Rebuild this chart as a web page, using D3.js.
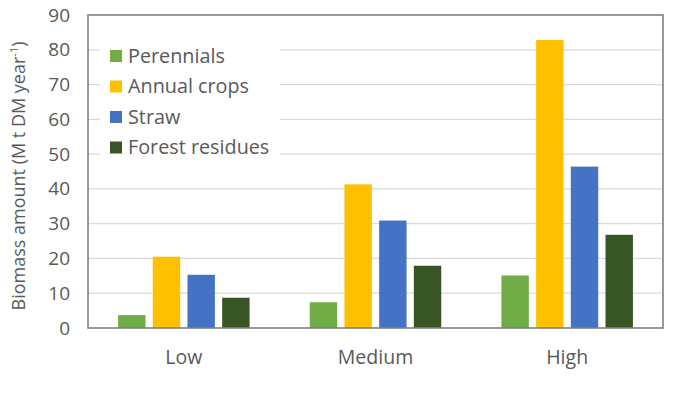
<!DOCTYPE html>
<html>
<head>
<meta charset="utf-8">
<script src="https://cdn.jsdelivr.net/npm/d3@7"></script>
<style>
  html, body { margin: 0; padding: 0; background: #fff; }
  svg { display: block; font-family: "Open Sans", "Noto Sans", sans-serif; }
</style>
</head>
<body>
<svg id="chart" width="675" height="397"></svg>
<script>
const categories = ["Low", "Medium", "High"];
const seriesNames = ["Perennials", "Annual crops", "Straw", "Forest residues"];
const perennials = [3.7, 7.4, 15.1];
const annualCrops = [20.5, 41.3, 82.8];
const straw = [15.3, 30.9, 46.4];
const forestResidues = [8.7, 17.9, 26.8];
const yTicks = [0, 10, 20, 30, 40, 50, 60, 70, 80, 90];
const colors = ["#70AD47", "#FFC000", "#4472C4", "#375623"];

const seriesValues = [perennials, annualCrops, straw, forestResidues];

const svg = d3.select("#chart");
const m = { left: 88, right: 663, top: 15, bottom: 328 };

const y = d3.scaleLinear().domain([0, 90]).range([m.bottom, m.top]);
const x0 = d3.scaleBand().domain(categories).range([m.left, m.right]).padding(0);
const groupW = 131.5;
const x1 = d3.scaleBand().domain(seriesNames).range([0, groupW]).paddingInner(0.21).paddingOuter(0);
const offset = (x0.bandwidth() - groupW) / 2;

// gridlines
svg.append("g")
  .selectAll("line")
  .data(yTicks.filter(t => t > 0 && t < 90))
  .join("line")
  .attr("x1", m.left).attr("x2", m.right)
  .attr("y1", d => y(d)).attr("y2", d => y(d))
  .attr("stroke", "#d9d9d9").attr("stroke-width", 1.3);

// bars
const groups = svg.append("g")
  .selectAll("g")
  .data(categories)
  .join("g")
  .attr("transform", d => `translate(${x0(d) + offset},0)`);

groups.selectAll("rect")
  .data((c, ci) => seriesNames.map((s, si) => ({ s, si, v: seriesValues[si][ci] })))
  .join("rect")
  .attr("x", d => x1(d.s))
  .attr("width", x1.bandwidth())
  .attr("y", d => y(d.v))
  .attr("height", d => y(0) - y(d.v))
  .attr("fill", d => colors[d.si]);

// legend background + legend
const legend = svg.append("g");
legend.append("rect")
  .attr("x", 100).attr("y", 38).attr("width", 180).attr("height", 126)
  .attr("fill", "#fff");
const legendRows = legend.selectAll("g")
  .data(seriesNames)
  .join("g")
  .attr("transform", (d, i) => `translate(110,${56 + i * 30.5})`);
legendRows.append("rect")
  .attr("x", 0).attr("y", -6).attr("width", 12).attr("height", 12)
  .attr("fill", (d, i) => colors[i]);
legendRows.append("text")
  .attr("x", 18).attr("y", 0).attr("dy", "0.35em")
  .attr("font-size", 19.8).attr("fill", "#595959")
  .text(d => d);

// plot border
svg.append("rect")
  .attr("x", m.left).attr("y", m.top)
  .attr("width", m.right - m.left).attr("height", m.bottom - m.top)
  .attr("fill", "none").attr("stroke", "#7f7f7f").attr("stroke-width", 1.6);

// y axis
const yAxis = d3.axisLeft(y).tickValues(yTicks).tickSize(0).tickPadding(18);
const yg = svg.append("g").attr("transform", `translate(${m.left},0)`).call(yAxis);
yg.select(".domain").remove();
yg.selectAll("text").attr("font-size", 19).attr("fill", "#595959")
  .attr("font-family", "\"Open Sans\", \"Noto Sans\", sans-serif");

// x axis
const xAxis = d3.axisBottom(x0).tickSize(0).tickPadding(22);
const xg = svg.append("g").attr("transform", `translate(0,${m.bottom})`).call(xAxis);
xg.select(".domain").remove();
xg.selectAll("text").attr("font-size", 19.5).attr("fill", "#595959")
  .attr("font-family", "\"Open Sans\", \"Noto Sans\", sans-serif");

// y title
const yt = svg.append("text")
  .attr("transform", "translate(25,176) rotate(-90)")
  .attr("text-anchor", "middle")
  .attr("font-size", 18).attr("fill", "#595959");
yt.append("tspan").text("Biomass amount (M t DM year");
yt.append("tspan").attr("font-size", 11).attr("dy", -7).text("-1");
yt.append("tspan").attr("dy", 7).text(")");
</script>
</body>
</html>
